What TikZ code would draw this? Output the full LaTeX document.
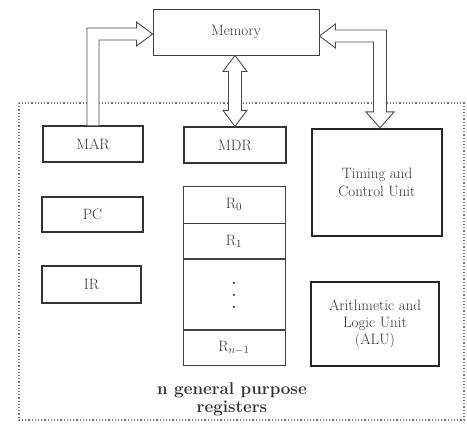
\documentclass[tikz,border=0pt]{standalone}
\usetikzlibrary{calc}
\begin{document}
\begin{tikzpicture}[x=1pt,y=-1pt,
  font=\fontsize{15}{18}\selectfont,
  every node/.style={text=black!80},
  box/.style={draw=black!80, line width=1.3pt, inner sep=0pt, align=center},
  thinbox/.style={draw=black!75, line width=0.9pt, inner sep=0pt, align=center},
  thickbox/.style={draw=black!85, line width=2.2pt, inner sep=0pt, align=center},
  hollow/.style={draw=black!70, line width=0.9pt, fill=white, line join=miter},
  vdot/.style={fill=black!75},
  outer/.style={draw=black!55, line width=1.2pt, dotted}]
\useasboundingbox (0,0) rectangle (467,426);

\draw[outer] (19,103) rectangle (464,420);

\node[thinbox, minimum width=166pt, minimum height=46pt] (mem) at (236,32) {Memory};
\node[box, minimum width=100pt, minimum height=36pt] (mar) at (93,144) {MAR};
\node[box, minimum width=102pt, minimum height=36pt] (mdr) at (235,145) {MDR};
\node[box, minimum width=101pt, minimum height=35pt] (pc) at (92.5,214.5) {PC};
\node[box, minimum width=99pt, minimum height=37pt] (ir) at (91.5,284.5) {IR};
\node[thickbox, minimum width=130pt, minimum height=107pt] (tcu) at (377,182.5) {Timing and\\Control Unit};
\node[thickbox, minimum width=128pt, minimum height=84pt, font=\fontsize{15}{17}\selectfont] (alu) at (375,324) {Arithmetic and\\Logic Unit\\(ALU)};

\node[thinbox, minimum width=102pt, minimum height=37pt] (r0) at (234,204.5) {R$_0$};
\node[thinbox, minimum width=102pt, minimum height=35pt, anchor=north] (r1) at (r0.south) {R$_1$};
\node[thinbox, minimum width=102pt, minimum height=70pt, anchor=north] (rd) at (r1.south) {};
\node[thinbox, minimum width=102pt, minimum height=35pt, anchor=north] (rn) at (rd.south) {R$_{n-1}$};
\fill[vdot] ($(rd.center)+(0,-12)$) circle (1.3pt);
\fill[vdot] (rd.center) circle (1.3pt);
\fill[vdot] ($(rd.center)+(0,12)$) circle (1.3pt);

\node[font=\fontsize{17}{18}\selectfont\bfseries, align=center] (lbl) at (232,399) {n general purpose\\registers};

% MAR -> Memory
\coordinate (lt) at ($(mem.west)+(0,2)$);
\draw[hollow] ($(mar.north)+(-6,0)$) |- ($(lt)+(-16,-6)$) -- ++(0,-6) -- (lt)
  -- ($(lt)+(-16,12)$) -- ++(0,-6) -| ($(mar.north)+(6,0)$);

% Memory <-> Timing and Control
\coordinate (rt) at ($(mem.east)+(0,4)$);
\coordinate (ct) at ($(tcu.north)+(3,0)$);
\draw[hollow] (rt) -- ($(rt)+(16,-12)$) -- ++(0,6) -| ($(ct)+(6.5,-16)$) -- ++(7.5,0)
  -- (ct) -- ++(-14,-16) -- ++(7.5,0) |- ($(rt)+(16,6)$) -- ++(0,6) -- cycle;

% Memory <-> MDR
\coordinate (mt) at (mdr.north |- mem.south);
\coordinate (mb) at (mdr.north);
\draw[hollow] (mt) -- ++(12,16) -- ++(-5.5,0) -- ($(mb)+(6.5,-16)$) -- ++(5.5,0)
  -- (mb) -- ++(-12,-16) -- ++(5.5,0) -- ($(mt)+(-6.5,16)$) -- ++(-5.5,0) -- cycle;
\end{tikzpicture}
\end{document}
